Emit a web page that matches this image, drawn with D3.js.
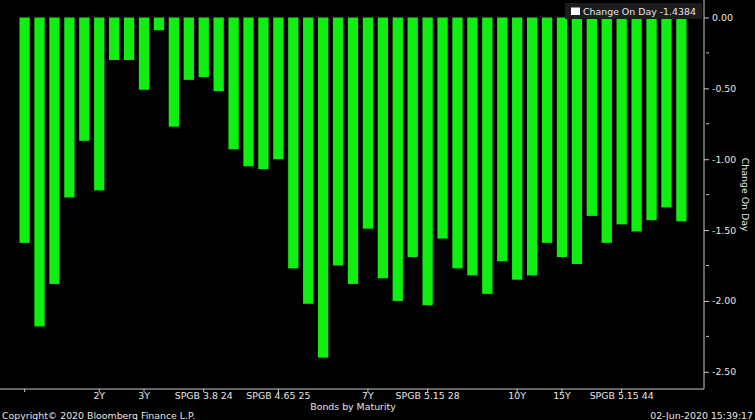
<!DOCTYPE html>
<html>
<head>
<meta charset="utf-8">
<script src="https://cdn.jsdelivr.net/npm/d3@7"></script>
<style>
  html, body { margin: 0; padding: 0; background: #000; }
  svg { display: block; }
  text { font-family: "DejaVu Sans", Verdana, sans-serif; }
</style>
</head>
<body>
<svg id="chart" width="755" height="420"></svg>
<script>
// ---- data ----
const categories = [
  "", "", "", "", "", "2Y", "", "", "3Y", "", "", "", "SPGB 3.8 24", "", "",
  "", "", "SPGB 4.65 25", "", "", "", "", "", "7Y", "", "", "", "SPGB 5.15 28", "", "",
  "", "", "", "10Y", "", "", "15Y", "", "", "", "SPGB 5.15 44", "", "", "", ""
];
const changeOnDay = [
  -1.59, -2.18, -1.88, -1.27, -0.87, -1.22, -0.30, -0.30, -0.51, -0.09,
  -0.77, -0.44, -0.42, -0.52, -0.93, -1.05, -1.07, -1.00, -1.77, -2.02,
  -2.40, -1.75, -1.88, -1.49, -1.84, -2.00, -1.69, -2.03, -1.56, -1.77,
  -1.82, -1.95, -1.72, -1.85, -1.82, -1.59, -1.69, -1.74, -1.40, -1.59,
  -1.46, -1.51, -1.43, -1.34, -1.4384
];
const xTickIndex = [0, 5, 8, 12, 17, 23, 27, 33, 36, 40];
const yMajorTicks = [0, -0.5, -1.0, -1.5, -2.0, -2.5];
const yMinorTicks = [-0.25, -0.75, -1.25, -1.75, -2.25];
const seriesName = "Change On Day";
const xTitle = "Bonds by Maturity";
const yTitle = "Change On Day";
const copyright = "Copyright\u00A9 2020 Bloomberg Finance L.P.";
const stamp = "02-Jun-2020 15:39:17";

// ---- layout ----
const svg = d3.select("#chart");
svg.append("rect").attr("width", 755).attr("height", 420).attr("fill", "#000");

const plotRight = 704, plotBottom = 389;
const fontSize = 9.4;
const textCol = "#e6e6e6";
const axisCol = "#c8c8c8";
const barCol = "#11ee11";

const x = d3.scaleBand()
  .domain(d3.range(changeOnDay.length))
  .range([12, 694])
  .paddingInner(0.31)
  .paddingOuter(0.5);

const y = d3.scaleLinear()
  .domain([0, -2.5])
  .range([17.5, 371.8]);

// bars
svg.append("g").selectAll("rect")
  .data(changeOnDay)
  .join("rect")
  .attr("x", (d, i) => x(i))
  .attr("width", x.bandwidth())
  .attr("y", d => Math.min(y(0), y(d)))
  .attr("height", d => Math.abs(y(d) - y(0)))
  .attr("fill", barCol);

// bottom axis
const xAxis = d3.axisBottom(x)
  .tickValues(xTickIndex)
  .tickFormat(i => categories[i])
  .tickSize(3)
  .tickPadding(1)
  .tickSizeOuter(0);
const gx = svg.append("g").attr("transform", `translate(0,${plotBottom})`).call(xAxis);
gx.select(".domain").remove();
gx.append("line").attr("x1", 0).attr("x2", plotRight).attr("y1", 0).attr("y2", 0)
  .attr("stroke", axisCol).attr("stroke-width", 1);
gx.selectAll(".tick line").attr("stroke", axisCol);
gx.selectAll(".tick text").attr("fill", textCol).attr("font-size", fontSize)
  .attr("font-family", "DejaVu Sans").attr("dy", "0.6em");

// right axis
const yAxis = d3.axisRight(y)
  .tickValues(yMajorTicks)
  .tickFormat(d => (Math.abs(d) < 1e-9 ? 0 : d).toFixed(2))
  .tickSize(5)
  .tickPadding(3)
  .tickSizeOuter(0);
const gy = svg.append("g").attr("transform", `translate(${plotRight},0)`).call(yAxis);
gy.select(".domain").remove();
gy.append("line").attr("x1", 0).attr("x2", 0).attr("y1", 0).attr("y2", plotBottom)
  .attr("stroke", axisCol).attr("stroke-width", 1);
gy.selectAll(".tick line").attr("stroke", axisCol);
gy.selectAll(".tick text").attr("fill", textCol).attr("font-size", fontSize)
  .attr("font-family", "DejaVu Sans");
gy.selectAll(".minor").data(yMinorTicks).join("line")
  .attr("class", "minor")
  .attr("x1", 2).attr("x2", 5)
  .attr("y1", d => y(d)).attr("y2", d => y(d))
  .attr("stroke", axisCol);

// axis titles
svg.append("text")
  .attr("x", 353).attr("y", 409.5)
  .attr("text-anchor", "middle")
  .attr("fill", textCol).attr("font-size", fontSize)
  .text(xTitle);
svg.append("text")
  .attr("transform", `translate(742,${y(-1.25)}) rotate(90)`)
  .attr("text-anchor", "middle")
  .attr("fill", textCol).attr("font-size", fontSize)
  .text(yTitle);

// footer
svg.append("text").attr("x", 2).attr("y", 418.5)
  .attr("fill", textCol).attr("font-size", fontSize).text(copyright);
svg.append("text").attr("x", 753).attr("y", 418.5).attr("text-anchor", "end")
  .attr("fill", textCol).attr("font-size", fontSize).text(stamp);

// legend
const leg = svg.append("g");
leg.append("rect").attr("x", 565).attr("y", 3).attr("width", 137).attr("height", 16)
  .attr("fill", "#1c1c1c");
leg.append("rect").attr("x", 571).attr("y", 7.5).attr("width", 9).attr("height", 7.5)
  .attr("fill", "#ffffff");
leg.append("text").attr("x", 583).attr("y", 15)
  .attr("fill", textCol).attr("font-size", fontSize)
  .text(`${seriesName} ${changeOnDay[changeOnDay.length - 1].toFixed(4)}`);
</script>
</body>
</html>
